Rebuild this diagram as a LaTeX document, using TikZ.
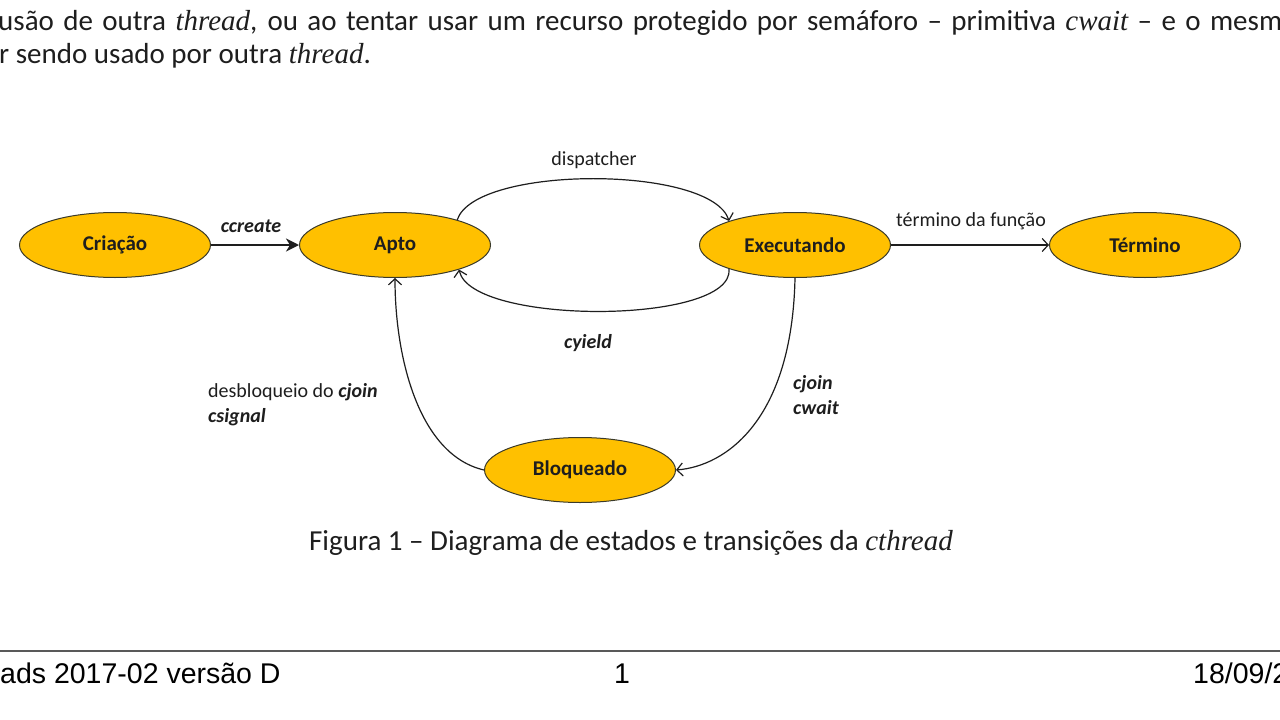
\documentclass[tikz,border=0pt]{standalone}
\usepackage{fontspec}
\setmainfont{Carlito}
\newfontfamily\timesf{Liberation Serif}
\newfontfamily\arialf{Liberation Sans}
\usetikzlibrary{arrows.meta,shapes.geometric}
\definecolor{stategold}{HTML}{FFC000}
\definecolor{edgedark}{HTML}{3A3A2A}
\definecolor{inkgray}{HTML}{1E1E1E}
\begin{document}
\begin{tikzpicture}[x=1pt,y=-1pt,
  state/.style={ellipse,draw=edgedark,line width=1pt,fill=stategold,minimum width=191pt,minimum height=65pt,inner sep=0pt,font=\fontsize{21}{25}\selectfont\bfseries,text=inkgray},
  trans/.style={line width=1.2pt,draw=inkgray,-{Straight Barb[length=6pt,width=13pt,line width=1.2pt]}},
  createarrow/.style={line width=1.8pt,draw=inkgray,-{Stealth[length=13pt,width=13pt,inset=4pt]}},
  lbl/.style={font=\fontsize{20}{25}\selectfont,text=inkgray,inner sep=0pt},
  blbl/.style={lbl,font=\fontsize{20}{25}\selectfont\bfseries\itshape},
  body/.style={font=\fontsize{29}{33}\selectfont,text=inkgray,inner sep=0pt},
  foot/.style={font=\arialf\fontsize{28.5}{32}\selectfont,text=black,inner sep=0pt}
]
\useasboundingbox (0,0) rectangle (1280,720);
\fill[white] (0,0) rectangle (1280,720);
\clip (0,0) rectangle (1280,720);

% running text
\node[body,anchor=base west] (line1) at (-2,30) {\makebox[1284pt][s]{usão de outra {\timesf\itshape thread}, ou ao tentar usar um recurso protegido por semáforo – primitiva {\timesf\itshape cwait} – e o mesm}};
\node[body,anchor=base west] (line2) at (-1,63) {r sendo usado por outra {\timesf\itshape thread}.};

% states
\node[state] (cria) at (115,245) {Criação};
\node[state] (apto) at (395,245) {Apto};
\node[state] (exec) at (795,245) {Executando};
\node[state] (term) at (1145,245) {Término};
\node[state] (bloq) at (580,470) {Bloqueado};

% transitions
\draw[createarrow] (cria) -- (apto);
\draw[trans] (apto.22) .. controls +(18,-55) and +(-18,-56) .. (exec.160);
\draw[trans] (exec.200) .. controls +(5,56) and +(12,56) .. (apto.339);
\draw[trans] (exec) -- (term);
\draw[trans] (exec.south) .. controls +(-3,142) and +(50,-4) .. (bloq.east);
\draw[trans] (bloq.west) .. controls +(-65,-15) and +(0,80) .. (apto.south);

% labels
\node[blbl] (lcreate) at (251,226) {ccreate};
\node[lbl] (ldisp) at (594,160) {dispatcher};
\node[blbl] (lyield) at (588,343) {cyield};
\node[lbl] (lterm) at (971,221) {término da função};
\node[lbl,anchor=north west,align=left] (ljoin) at (793,375) {\textbf{\textit{cjoin}}\\\textbf{\textit{cwait}}};
\node[lbl,anchor=north west,align=left] (ldesb) at (208,383) {desbloqueio do \textbf{\textit{cjoin}}\\\textbf{\textit{csignal}}};

% caption
\node[body,anchor=base] (caption) at (631,550) {Figura 1 – Diagrama de estados e transições da {\timesf\itshape cthread}};

% footer
\draw[line width=1.6pt,draw=black!65] (0,651) -- (1280,651);
\node[foot,anchor=base west] (fleft) at (0,683) {ads 2017-02 versão D};
\node[foot,anchor=base] (fmid) at (622,683) {1};
\node[foot,anchor=base west] (fright) at (1193,683) {18/09/2};
\end{tikzpicture}
\end{document}
